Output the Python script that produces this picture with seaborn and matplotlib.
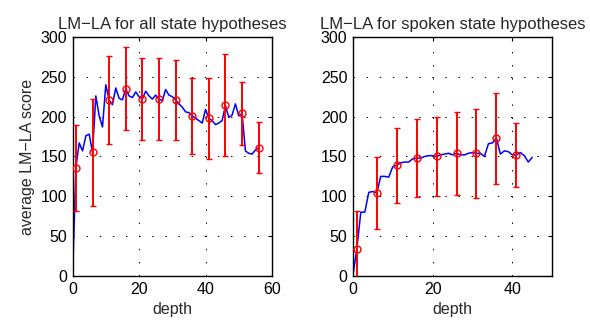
import numpy as np
import pandas as pd
import matplotlib
matplotlib.use("Agg")
import matplotlib.pyplot as plt
import seaborn as sns

# ---------------- data ----------------
left_depth = list(range(0, 57))
left_score = [0, 136, 167, 157, 176, 178, 155, 226, 201, 187, 240, 221, 215, 236, 223, 221,
              235, 226, 224, 231, 225, 222, 232, 226, 222, 227, 222, 220, 234, 227, 225,
              221, 216, 212, 206, 205, 201, 198, 195, 192, 209, 198, 195, 190, 192, 195,
              214, 199, 202, 216, 201, 204, 157, 154, 153, 158, 161]
left_err_x = [1, 6, 11, 16, 21, 26, 31, 36, 41, 46, 51, 56]
left_err_y = [136, 155, 221, 235, 222, 222, 221, 201, 198, 214, 204, 161]
left_err = [54, 67, 55, 52, 51, 51, 50, 48, 51, 64, 40, 32]

right_depth = list(range(0, 46))
right_score = [0, 34, 80, 80, 105, 106, 104, 125, 125, 124, 137, 139, 142, 143, 143, 147,
               148, 148, 150, 151, 151, 150, 152, 153, 154, 152, 154, 152, 152, 154, 155,
               154, 154, 150, 166, 167, 173, 153, 157, 156, 152, 152, 155, 151, 143, 149]
right_err_x = [1, 6, 11, 16, 21, 26, 31, 36, 41]
right_err_y = [34, 104, 139, 148, 150, 154, 154, 173, 152]
right_err = [47, 45, 47, 49, 50, 52, 56, 57, 40]

titles = ["LM\u2212LA for all state hypotheses", "LM\u2212LA for spoken state hypotheses"]
xlabel = "depth"
ylabel = "average LM\u2212LA score"
yticks = [0, 50, 100, 150, 200, 250, 300]
left_xticks = [0, 20, 40, 60]
right_xticks = [0, 20, 40]

# ---------------- plot ----------------
sns.set_style("white")
plt.rcParams['font.family'] = ['Liberation Sans', 'DejaVu Sans']
plt.rcParams['font.size'] = 11.5

fig = plt.figure(figsize=(5.9, 3.27), dpi=100)
axL = fig.add_axes([0.123, 0.156, 0.338, 0.731])
axR = fig.add_axes([0.598, 0.156, 0.338, 0.731])

panels = [
    (axL, left_depth, left_score, left_err_x, left_err_y, left_err, (0, 60), left_xticks, titles[0], True),
    (axR, right_depth, right_score, right_err_x, right_err_y, right_err, (0, 50), right_xticks, titles[1], False),
]

for ax, d, s, ex, ey, ee, xlim, xt, title, show_ylabel in panels:
    df = pd.DataFrame({"depth": d, "score": s})
    sns.lineplot(data=df, x="depth", y="score", ax=ax, color="#0000ff", lw=1.1, zorder=2)
    ax.errorbar(ex, ey, yerr=ee, fmt="o", color="#ff0000", mfc="none", mec="#ff0000",
                ms=5, mew=1.0, ecolor="#ff0000", elinewidth=1.4, capsize=2.5, capthick=1.2,
                zorder=3, clip_on=True)
    ax.set_xlim(*xlim)
    ax.set_ylim(0, 300)
    ax.set_xticks(xt)
    ax.set_yticks(yticks)
    ax.grid(True, linestyle=(0, (1.5, 12)), color="black", lw=0.7)
    ax.tick_params(direction="in", top=True, right=True, length=3, width=0.8,
                   labelsize=11.5, colors="black", pad=4)
    for sp in ax.spines.values():
        sp.set_visible(True)
        sp.set_color("black")
        sp.set_linewidth(1.0)
    ax.set_title(title, fontsize=12, pad=6)
    ax.set_xlabel(xlabel, fontsize=11.5, labelpad=4)
    ax.set_ylabel(ylabel if show_ylabel else "", fontsize=11.5)

fig.savefig("out.png", dpi=100)
